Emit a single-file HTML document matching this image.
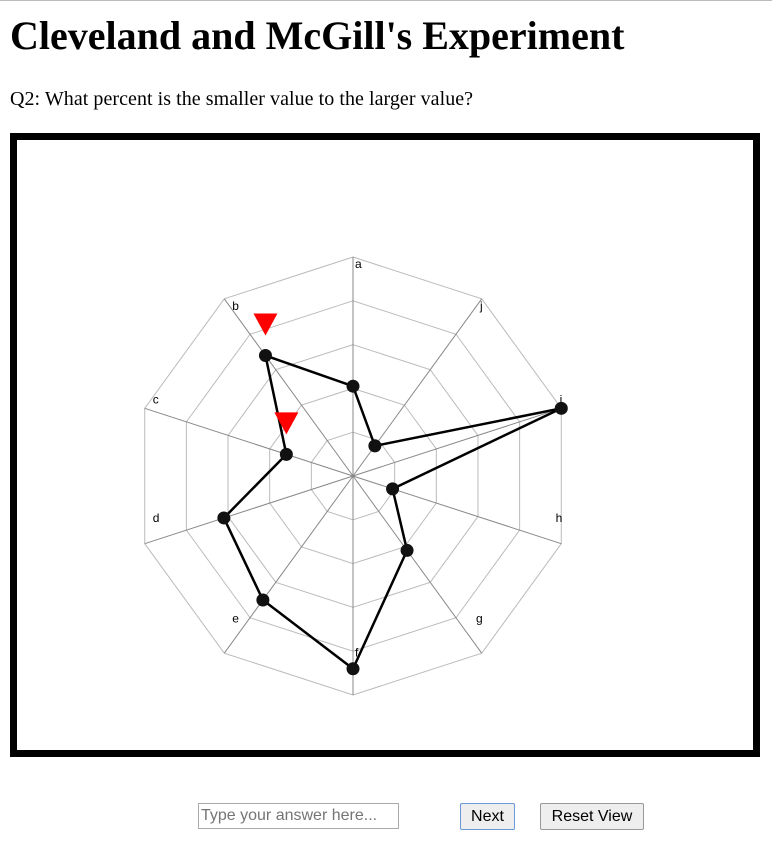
<!DOCTYPE html>
<html><head><meta charset="utf-8">
<style>
body{margin:0;background:#fff;font-family:"Liberation Serif",serif;width:772px;height:861px;position:relative;overflow:hidden}
#topline{position:absolute;left:0;top:0;width:772px;height:1px;background:#bbb}
h1{position:absolute;left:10px;top:13px;margin:0;font-size:40px;font-weight:bold;line-height:46px;white-space:nowrap}
#q{position:absolute;left:10px;top:88px;font-size:20px;line-height:22px;white-space:nowrap;letter-spacing:0.05px}
#frame{position:absolute;left:10px;top:133px;width:736px;height:610px;border:7px solid #000}
#chart{position:absolute;left:0;top:0}
input{position:absolute;left:198px;top:803px;width:195px;height:24px;border:1px solid #aaa;font-family:"Liberation Sans",sans-serif;font-size:16px;padding:0 2px;margin:0}
button{position:absolute;top:803px;height:27px;font-family:"Liberation Sans",sans-serif;font-size:16px;background:#eee;border:1px solid #999;border-radius:2px;padding:0}
#next{left:460px;width:55px;border-color:#6a9ad8}
#reset{left:540px;width:104px}
</style></head><body>
<div id="topline"></div>
<h1>Cleveland and McGill's Experiment</h1>
<div id="q">Q2: What percent is the smaller value to the larger value?</div>
<div id="frame"></div>
<svg id="chart" width="772" height="861"></svg>
<input type="text" placeholder="Type your answer here...">
<button id="next">Next</button>
<button id="reset">Reset View</button>
<script>
const categories=['a','b','c','d','e','f','g','h','i','j'];
const values=[0.41,0.68,0.32,0.62,0.70,0.88,0.42,0.19,1.0,0.17];
const marked=['b','c'];
const ringLevels=[0.2,0.4,0.6,0.8,1.0];

const NS='http://www.w3.org/2000/svg';
const svg=document.getElementById('chart');
const cx=353,cy=476,R=219;
function ang(i){return i*2*Math.PI/categories.length;}
function px(i,v){return cx-R*v*Math.sin(ang(i));}
function py(i,v){return cy-R*v*Math.cos(ang(i));}
function mk(t,a){const e=document.createElementNS(NS,t);for(const k in a)e.setAttribute(k,a[k]);svg.appendChild(e);return e;}

ringLevels.forEach((lv,k)=>{
  const pts=categories.map((c,i)=>px(i,lv)+','+py(i,lv)).join(' ');
  const e=mk('polygon',{points:pts,fill:'none',stroke:'#bbb','stroke-width':1});
  
  
});
categories.forEach((c,i)=>{
  const l=mk('line',{x1:cx,y1:cy,x2:px(i,1),y2:py(i,1),stroke:'#888','stroke-width':1});
  
  
  const s=Math.sin(ang(i)),co=Math.cos(ang(i));
  let lx=px(i,1)+(s>0.1?8:(s<-0.1?1:2));
  let ly;
  if(co>0.5) ly=py(i,1)+8;
  else if(co>0) ly=py(i,1)-8;
  else ly=cy+R*0.81*(-co)-(co>-0.5?12:0);
  const t=mk('text',{x:lx,y:ly,'font-family':'Liberation Sans, sans-serif','font-size':12,'text-anchor':s<-0.1?'end':'start','dominant-baseline':'middle',fill:'#000'});
  t.textContent=c;
  
  
});
const poly=mk('polygon',{points:categories.map((c,i)=>px(i,values[i])+','+py(i,values[i])).join(' '),fill:'none',stroke:'#000','stroke-width':2.5,'stroke-linejoin':'round'});


categories.forEach((c,i)=>{
  const d=mk('circle',{cx:px(i,values[i]),cy:py(i,values[i]),r:6.5,fill:'#111'});
  
  
});
marked.forEach(c=>{
  const i=categories.indexOf(c);
  const x=px(i,values[i]),y=py(i,values[i]);
  const tr=mk('polygon',{points:(x-12)+','+(y-42)+' '+(x+12)+','+(y-42)+' '+x+','+(y-20),fill:'#f00'});
  
  
});
</script>
</body></html>
